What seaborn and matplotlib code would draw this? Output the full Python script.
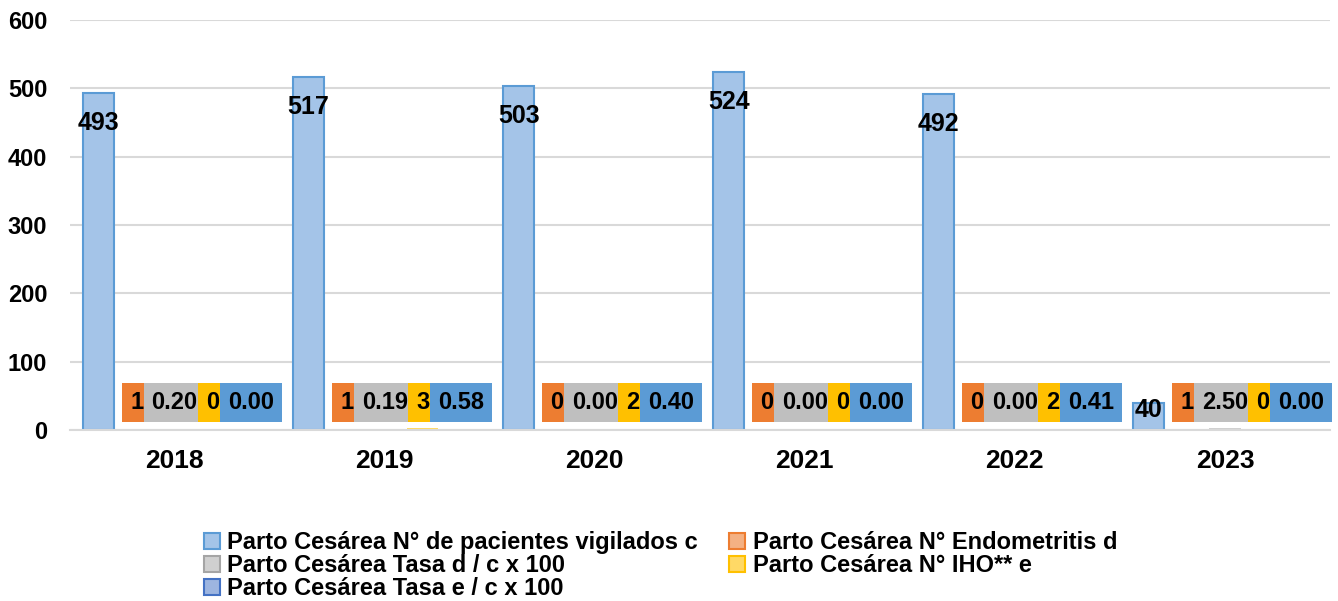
import pandas as pd
import numpy as np
import matplotlib
matplotlib.use("Agg")
import matplotlib.pyplot as plt
import seaborn as sns
from matplotlib.patches import Patch

years = ['2018', '2019', '2020', '2021', '2022', '2023']
series_names = ['Parto Cesárea N° de pacientes vigilados c',
                'Parto Cesárea N° Endometritis d',
                'Parto Cesárea Tasa d / c x 100',
                'Parto Cesárea N° IHO** e',
                'Parto Cesárea Tasa e / c x 100']
pacientes_c = [493, 517, 503, 524, 492, 40]
endometritis_d = [1, 1, 0, 0, 0, 1]
tasa_d = [0.20, 0.19, 0.00, 0.00, 0.00, 2.50]
iho_e = [0, 3, 2, 0, 2, 0]
tasa_e = [0.00, 0.58, 0.40, 0.00, 0.41, 0.00]
label_fmt = ['{:.0f}', '{:.0f}', '{:.2f}', '{:.0f}', '{:.2f}']

# colores tipo Excel
bar_colors = ['#A4C4E8', '#F4B183', '#D0D0D0', '#FFD966', '#9DB5E0']
edge_colors = ['#5B9BD5', '#ED7D31', '#A5A5A5', '#FFC000', '#4472C4']
box_colors = [None, '#ED7D31', '#BFBFBF', '#FFC000', '#5B9BD5']

values = [pacientes_c, endometritis_d, tasa_d, iho_e, tasa_e]
rows = []
for name, vals in zip(series_names, values):
    for y, v in zip(years, vals):
        rows.append({'year': y, 'serie': name, 'value': v})
df = pd.DataFrame(rows)

sns.set_style("white")
plt.rcParams['font.family'] = ['Liberation Sans', 'DejaVu Sans']
plt.rcParams['font.weight'] = 'bold'
plt.rcParams['text.color'] = 'black'
plt.rcParams['xtick.color'] = 'black'
plt.rcParams['ytick.color'] = 'black'

fig = plt.figure(figsize=(13.38, 6.01), dpi=100)
ax = fig.add_axes([0.052, 0.2845, 0.942, 0.6825])

sns.barplot(data=df, x='year', y='value', hue='serie', hue_order=series_names,
            palette=bar_colors, width=0.905, gap=0.18, ax=ax, legend=False,
            saturation=1)

for i, cont in enumerate(ax.containers):
    for bar in cont:
        bar.set_edgecolor(edge_colors[i] if i == 0 else 'none')
        bar.set_linewidth(1.5)

# etiquetas de datos
for i, cont in enumerate(ax.containers):
    for bar, v in zip(cont, values[i]):
        xc = bar.get_x() + bar.get_width() / 2
        txt = label_fmt[i].format(v)
        if i == 0:
            ypos = max(v - 44, 29)
            ax.text(xc, ypos, txt, ha='center', va='center', color='black',
                    fontsize=18, fontweight='bold', zorder=5)
        else:
            ax.text(xc, 40, txt, ha='center', va='center', color='black',
                    fontsize=17, fontweight='bold', zorder=5,
                    bbox=dict(boxstyle='square,pad=0.34', fc=box_colors[i], ec='none'))

ax.set_xlim(-0.5, 5.5)
ax.set_ylim(0, 600)
ax.set_yticks(range(0, 601, 100))
ax.yaxis.grid(True, color='#D9D9D9', linewidth=1.5)
ax.set_axisbelow(True)
for s in ['top', 'right', 'left']:
    ax.spines[s].set_visible(False)
ax.spines['bottom'].set_color('#D9D9D9')
ax.spines['bottom'].set_linewidth(1.5)
ax.set_xlabel('')
ax.set_ylabel('')
ax.tick_params(axis='y', labelsize=17, length=0, pad=16)
ax.tick_params(axis='x', labelsize=19, length=0, pad=14)
for lab in ax.get_xticklabels() + ax.get_yticklabels():
    lab.set_fontweight('bold')

handles = [Patch(facecolor=bar_colors[i], edgecolor=edge_colors[i], linewidth=1.5,
                 label=series_names[i]) for i in range(5)]
order = [0, 2, 4, 1, 3]
fig.legend([handles[k] for k in order], [series_names[k] for k in order],
           loc='lower left', bbox_to_anchor=(0.14, -0.026), ncol=2, frameon=False,
           prop={'size': 17, 'weight': 'bold'}, handlelength=0.7, handleheight=0.7,
           handletextpad=0.3, labelspacing=0.0, columnspacing=1.3, borderpad=0.2)

fig.savefig('out.png', dpi=100)
